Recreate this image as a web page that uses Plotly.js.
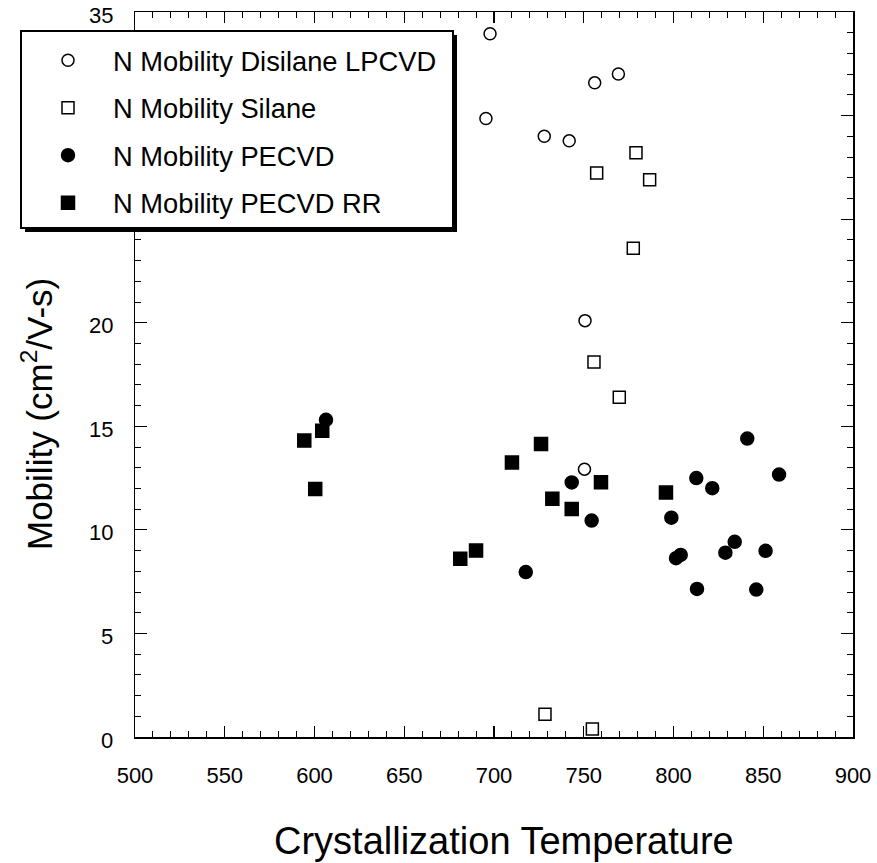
<!DOCTYPE html>
<html>
<head>
<meta charset="utf-8">
<script src="https://cdn.plot.ly/plotly-3.0.1.min.js"></script>
<style>html,body{margin:0;padding:0;background:#fff;}#chart{width:877px;height:863px;}</style>
</head>
<body>
<div id="chart"></div>
<script>
// Series names
const seriesNames = ["N Mobility Disilane LPCVD", "N Mobility Silane", "N Mobility PECVD", "N Mobility PECVD RR"];

// N Mobility Disilane LPCVD (open circles)
const disilaneTemp = [697.8, 695.5, 728.0, 741.9, 756.1, 769.3, 750.7, 750.4];
const disilaneMob  = [33.95, 29.86, 29.0, 28.78, 31.58, 32.01, 20.1, 12.93];

// N Mobility Silane (open squares)
const silaneTemp = [757.2, 779.1, 786.7, 777.6, 755.7, 769.8, 728.4, 754.8];
const silaneMob  = [27.23, 28.2, 26.9, 23.6, 18.1, 16.4, 1.10, 0.39];

// N Mobility PECVD (filled circles)
const pecvdTemp = [606.4, 743.3, 754.4, 717.7, 841.1, 858.8, 812.7, 821.6, 798.8, 801.4, 804.0, 834.1, 828.9, 851.3, 813.1, 846.1];
const pecvdMob  = [15.31, 12.29, 10.45, 7.96, 14.41, 12.67, 12.50, 12.01, 10.59, 8.63, 8.79, 9.42, 8.90, 8.99, 7.15, 7.12];

// N Mobility PECVD RR (filled squares)
const rrTemp = [594.3, 604.3, 600.4, 726.2, 710.0, 759.6, 732.5, 743.3, 681.2, 690.0, 795.8];
const rrMob  = [14.31, 14.78, 11.97, 14.15, 13.25, 12.30, 11.50, 11.01, 8.60, 9.00, 11.80];

// Axis ticks and titles
const xTicks = [500, 550, 600, 650, 700, 750, 800, 850, 900];
const yTicks = [0, 5, 10, 15, 20, 25, 30, 35];
const yLabelTicks = [0, 5, 10, 15, 20, 35];   // 25 and 30 lie under the legend box
const yRange = [0, 35];
const xTitle = 'Crystallization Temperature';
const yTitle = 'Mobility (cm<sup>2</sup>/V-s)';

const FONT = "'Liberation Sans', Arial, Helvetica, sans-serif";

function mk(name, x, y, symbol, size, group) {
  return {
    type: 'scatter', mode: 'markers', name: name, x: x, y: y,
    legendgroup: group,
    marker: {symbol: symbol, size: size, color: '#000', line: {color: '#000', width: 1.5}},
    cliponaxis: false
  };
}

const data = [
  mk(seriesNames[0], disilaneTemp, disilaneMob, 'circle-open', 12, 'a'),
  mk(seriesNames[1], silaneTemp, silaneMob, 'square-open', 12, 'b'),
  mk(seriesNames[2], pecvdTemp, pecvdMob, 'circle', 13, 'c'),
  mk(seriesNames[3], rrTemp, rrMob, 'square', 13, 'd')
];

const px2paperX = p => (p - 135) / 718;
const px2paperY = p => (737 - p) / 725;

// y tick numbers, placed on the y scale (yref 'y'), set a little away from the frame
const yLabelAnnots = yLabelTicks.map(v => ({
  text: String(v), xref: 'paper', yref: 'y',
  x: px2paperX(115), y: v, xanchor: 'right', yanchor: 'middle', yshift: -3,
  showarrow: false, font: {family: FONT, size: 22, color: '#000'}
}));

const layout = {
  width: 877, height: 863,
  margin: {l: 135, r: 24, t: 12, b: 126},
  paper_bgcolor: '#fff', plot_bgcolor: '#fff',
  font: {family: FONT, color: '#000'},
  showlegend: true,
  legend: {
    x: px2paperX(23), y: px2paperY(36), xanchor: 'left', yanchor: 'top',
    bgcolor: 'rgba(0,0,0,0)', borderwidth: 0,
    font: {family: FONT, size: 27.3, color: '#000'},
    itemwidth: 80, tracegroupgap: 9, traceorder: 'grouped'
  },
  xaxis: {
    range: [500, 900], tickvals: xTicks, ticktext: xTicks.map(String),
    ticks: 'inside', ticklen: 11, tickwidth: 1.2, tickcolor: '#000',
    minor: {dtick: 10, tick0: 500, ticks: 'inside', ticklen: 6, tickwidth: 1, tickcolor: '#000', showgrid: false},
    showline: true, linecolor: '#000', linewidth: 1.5, mirror: 'ticks',
    showgrid: false, zeroline: false,
    tickfont: {family: FONT, size: 22, color: '#000'},
    ticklabelstandoff: 18
  },
  yaxis: {
    range: yRange, tickvals: yTicks, showticklabels: false,
    ticks: 'inside', ticklen: 12, tickwidth: 1.2, tickcolor: '#000',
    minor: {dtick: 1, tick0: 0, ticks: 'inside', ticklen: 6, tickwidth: 1, tickcolor: '#000', showgrid: false},
    showline: true, linecolor: '#000', linewidth: 1.5, mirror: 'ticks',
    showgrid: false, zeroline: false
  },
  annotations: yLabelAnnots.concat([
    {text: yTitle, xref: 'paper', yref: 'paper',
     x: px2paperX(37), y: px2paperY(414), xanchor: 'center', yanchor: 'middle',
     textangle: -90, showarrow: false,
     font: {family: FONT, size: 35, color: '#000'}},
    {text: xTitle, xref: 'paper', yref: 'paper',
     x: px2paperX(503.5), y: px2paperY(841), xanchor: 'center', yanchor: 'middle',
     showarrow: false,
     font: {family: FONT, size: 38, color: '#000'}}
  ]),
  shapes: [
    {type: 'rect', xref: 'paper', yref: 'paper', layer: 'above',
     x0: px2paperX(25), x1: px2paperX(457), y0: px2paperY(232), y1: px2paperY(35),
     fillcolor: '#000', line: {width: 0}},
    {type: 'rect', xref: 'paper', yref: 'paper', layer: 'above',
     x0: px2paperX(21), x1: px2paperX(453), y0: px2paperY(228), y1: px2paperY(31),
     fillcolor: '#fff', line: {color: '#000', width: 2}}
  ]
};

Plotly.newPlot('chart', data, layout, {displayModeBar: false, staticPlot: true});
</script>
</body>
</html>
